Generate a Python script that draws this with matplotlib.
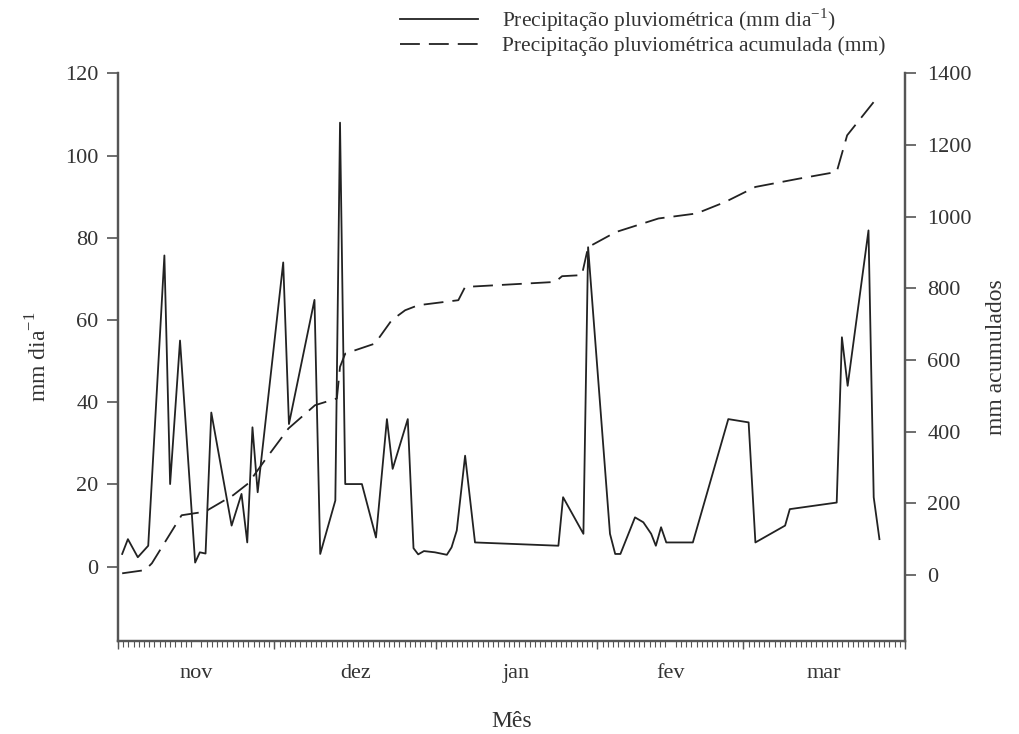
import numpy as np
import matplotlib
matplotlib.use("Agg")
import matplotlib.pyplot as plt

font = {"family": "serif", "serif": ["Liberation Serif"], "size": 16}
matplotlib.rc("font", **font)
matplotlib.rc("mathtext", fontset="custom", rm="Liberation Serif")

# days counted from 1 Nov
day_daily = [0.8, 1.9, 3.8, 5.8, 8.9, 10.0, 11.9, 14.8, 15.7, 16.8, 17.9, 21.8,
             23.7, 24.8, 25.8, 26.8, 31.7, 32.8, 37.7, 38.8, 41.7, 42.6, 43.6,
             46.8, 49.5, 51.6, 52.7, 55.6, 56.7, 57.6, 58.7, 60.8, 63.1, 64.0,
             65.0, 66.6, 68.5, 84.5, 85.4, 89.3, 90.2, 94.4, 95.4, 96.4, 99.2,
             100.8, 102.3, 103.2, 104.2, 105.2, 110.3, 117.1, 121.0, 122.3,
             128.0, 128.9, 137.9, 138.9, 140.0, 144.0, 145.0, 146.1]
rain_daily = [3.1, 6.7, 2.3, 5.1, 75.7, 20.1, 55.0, 1.0, 3.5, 3.2, 37.5, 10.0,
              17.7, 5.9, 33.9, 18.1, 74.0, 34.7, 64.9, 3.1, 16.1, 108.0, 20.1,
              20.1, 7.1, 35.9, 23.8, 35.9, 4.5, 3.0, 3.8, 3.5, 2.9, 4.7,
              8.8, 27.0, 5.9, 5.1, 16.9, 8.0, 77.7, 8.0, 3.1, 3.1, 12.0,
              10.8, 8.0, 5.1, 9.6, 5.9, 5.9, 35.9, 35.1, 5.9,
              10.0, 14.0, 15.6, 55.8, 44.0, 81.8, 16.9, 6.7]

day_acum = [0.8, 5.2, 6.5, 12.2, 16.7, 22.1, 25.0, 28.2, 32.7, 37.8, 42.0, 42.6,
            43.6, 49.3, 52.5, 55.1, 57.6, 65.3, 66.6, 83.9, 85.2, 89.0, 90.2,
            95.5, 103.7, 111.0, 116.5, 122.3, 130.6, 137.9, 139.9, 145.0]
rain_acum = [5, 14, 33, 167, 177, 223, 256, 321, 409, 474, 493, 581,
             618, 646, 711, 739, 753, 767, 804, 818, 834, 837, 915,
             957, 995, 1009, 1041, 1083, 1106, 1125, 1227, 1320]

month_starts = [0, 30, 61, 92, 120, 151]
month_labels = ["nov", "dez", "jan", "fev", "mar"]

line_color = "#222222"
axis_color = "#555555"
text_color = "#333333"

fig = plt.figure(figsize=(10.19, 7.34), dpi=100)
ax = fig.add_axes([0.1158, 0.1271, 0.7723, 0.7730])
ax2 = ax.twinx()

l1, = ax.plot(day_daily, rain_daily, color=line_color, lw=1.3,
              label="Precipitação pluviométrica (mm dia$^{\\mathregular{-1}}$)")
l2, = ax2.plot(day_acum, rain_acum, color=line_color, lw=1.3,
               linestyle=(0, (11, 5)),
               label="Precipitação pluviométrica acumulada (mm)")

ax.set_xlim(month_starts[0], month_starts[-1])
ax.set_ylim(-18, 120)
ax2.set_ylim(-183, 1400)
ax.set_yticks(np.arange(0, 121, 20))
ax2.set_yticks(np.arange(0, 1401, 200))

# month names centred in each month, one small tick per day
mids = [(a + b) / 2 for a, b in zip(month_starts[:-1], month_starts[1:])]
ax.set_xticks(mids, month_labels)
ax.set_xticks(np.arange(0, 152, 1), minor=True)
ax.tick_params(axis="x", which="major", length=0, pad=17)
ax.tick_params(axis="x", which="minor", length=4, width=0.8, color=axis_color)

# slightly longer ticks at the month boundaries
sec = ax.secondary_xaxis("bottom")
sec.set_xticks(month_starts)
sec.tick_params(length=6, width=1.0, color=axis_color, labelbottom=False)
sec.spines["bottom"].set_visible(False)

for a in (ax, ax2):
    a.spines["top"].set_visible(False)
    for s in ("left", "right", "bottom"):
        a.spines[s].set_color(axis_color)
        a.spines[s].set_linewidth(1.6)
    a.tick_params(axis="y", length=8, width=1.2, color=axis_color,
                  labelcolor=text_color, pad=8)
ax.tick_params(axis="y", pad=6)
ax.tick_params(axis="x", labelcolor=text_color)

ax.set_xlabel("Mês", fontsize=17, color=text_color, labelpad=20)
ax.set_ylabel("mm dia$^{\\mathregular{-1}}$", fontsize=17, color=text_color,
              labelpad=10)
ax2.set_ylabel("mm acumulados", fontsize=17, color=text_color, labelpad=10)

fig.legend(handles=[l1, l2], loc="upper left", bbox_to_anchor=(0.374, 1.018),
           frameon=False, fontsize=15.5, handlelength=3.6, handletextpad=1.1,
           labelspacing=0.12, labelcolor=text_color)

fig.savefig("out.png", dpi=100)
